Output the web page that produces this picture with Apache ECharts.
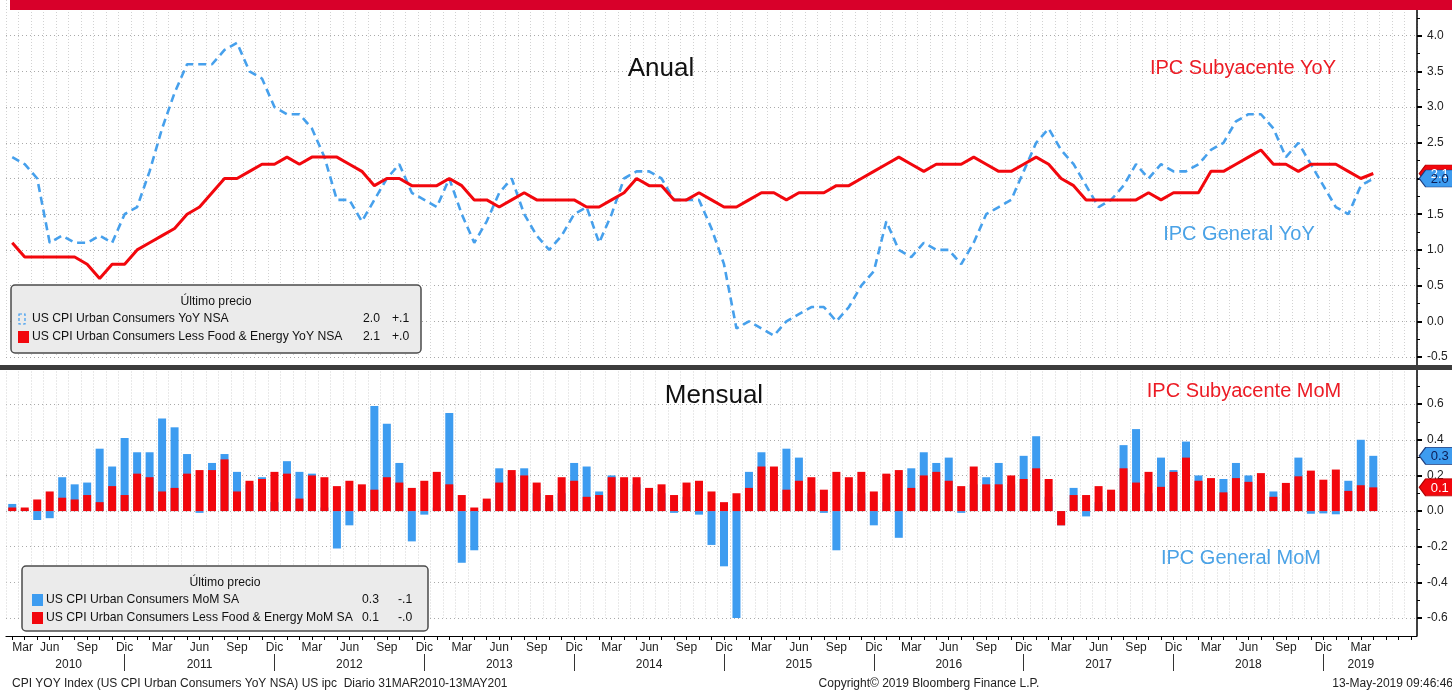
<!DOCTYPE html>
<html><head><meta charset="utf-8">
<script src="https://cdn.jsdelivr.net/npm/echarts@6/dist/echarts.min.js"></script>
<style>html,body{margin:0;padding:0;background:#fff}#c{width:1452px;height:690px}</style>
</head><body><div id="c"></div>
<script>
// ---------- axis labels ----------
const monthNames = ['Ene','Feb','Mar','Abr','May','Jun','Jul','Ago','Sep','Oct','Nov','Dic'];
const startYear = 2010, startMonth = 2;   // March 2010
const axisMonths = 113;                   // axis runs a little past the last data month
const categories = [];
for (let k = 0; k < axisMonths; k++) {
  const m = (startMonth + k) % 12, y = startYear + Math.floor((startMonth + k) / 12);
  categories.push(y + '-' + String(m + 1).padStart(2, '0'));
}
const yearLabelCats = ['2010-07','2011-06','2012-06','2013-06','2014-06','2015-06','2016-06','2017-06','2018-06','2019-03'];

// ---------- data (Mar 2010 .. Apr 2019) ----------
const headlineYoY = [
  2.3, 2.2, 2.0, 1.1, 1.2, 1.1, 1.1, 1.2, 1.1, 1.5,
  1.6, 2.1, 2.7, 3.2, 3.6, 3.6, 3.6, 3.8, 3.9, 3.5, 3.4, 3.0,
  2.9, 2.9, 2.7, 2.3, 1.7, 1.7, 1.4, 1.7, 2.0, 2.2, 1.8, 1.7,
  1.6, 2.0, 1.5, 1.1, 1.4, 1.8, 2.0, 1.5, 1.2, 1.0, 1.2, 1.5,
  1.6, 1.1, 1.5, 2.0, 2.1, 2.1, 2.0, 1.7, 1.7, 1.7, 1.3, 0.8,
  -0.1, 0.0, -0.1, -0.2, 0.0, 0.1, 0.2, 0.2, 0.0, 0.2, 0.5, 0.7,
  1.4, 1.0, 0.9, 1.1, 1.0, 1.0, 0.8, 1.1, 1.5, 1.6, 1.7, 2.1,
  2.5, 2.7, 2.4, 2.2, 1.9, 1.6, 1.7, 1.9, 2.2, 2.0, 2.2, 2.1,
  2.1, 2.2, 2.4, 2.5, 2.8, 2.9, 2.9, 2.7, 2.3, 2.5, 2.2, 1.9,
  1.6, 1.5, 1.9, 2.0
];
const coreYoY = [
  1.1, 0.9, 0.9, 0.9, 0.9, 0.9, 0.8, 0.6, 0.8, 0.8,
  1.0, 1.1, 1.2, 1.3, 1.5, 1.6, 1.8, 2.0, 2.0, 2.1, 2.2, 2.2,
  2.3, 2.2, 2.3, 2.3, 2.3, 2.2, 2.1, 1.9, 2.0, 2.0, 1.9, 1.9,
  1.9, 2.0, 1.9, 1.7, 1.7, 1.6, 1.7, 1.8, 1.7, 1.7, 1.7, 1.7,
  1.6, 1.6, 1.7, 1.8, 2.0, 1.9, 1.9, 1.7, 1.7, 1.8, 1.7, 1.6,
  1.6, 1.7, 1.8, 1.8, 1.7, 1.8, 1.8, 1.8, 1.9, 1.9, 2.0, 2.1,
  2.2, 2.3, 2.2, 2.1, 2.2, 2.2, 2.2, 2.3, 2.2, 2.1, 2.1, 2.2,
  2.3, 2.2, 2.0, 1.9, 1.7, 1.7, 1.7, 1.7, 1.7, 1.8, 1.7, 1.8,
  1.8, 1.8, 2.1, 2.1, 2.2, 2.3, 2.4, 2.2, 2.2, 2.1, 2.2, 2.2,
  2.2, 2.1, 2.0, 2.07
];
const headlineMoM = [
  0.04, 0.01, -0.05, -0.04, 0.19, 0.15, 0.16, 0.35, 0.25, 0.41,
  0.33, 0.33, 0.52, 0.47, 0.32, -0.01, 0.27, 0.32, 0.22, 0.15, 0.19, 0.05,
  0.28, 0.22, 0.21, 0.02, -0.21, -0.08, 0.00, 0.59, 0.49, 0.27, -0.17, -0.02,
  0.02, 0.55, -0.29, -0.22, 0.05, 0.24, 0.20, 0.24, 0.10, 0.05, 0.10, 0.27,
  0.25, 0.11, 0.20, 0.17, 0.15, 0.10, 0.10, -0.01, 0.08, -0.02, -0.19, -0.31,
  -0.65, 0.22, 0.33, 0.10, 0.35, 0.30, 0.10, -0.01, -0.22, 0.10, 0.10, -0.08,
  0.05, -0.15, 0.24, 0.33, 0.27, 0.30, -0.01, 0.15, 0.19, 0.27, 0.15, 0.31,
  0.42, 0.08, -0.08, 0.13, -0.03, 0.05, 0.10, 0.37, 0.46, 0.10, 0.30, 0.23,
  0.39, 0.20, 0.05, 0.18, 0.27, 0.20, 0.15, 0.11, 0.10, 0.30, -0.015, -0.013,
  -0.018, 0.17, 0.40, 0.31
];
const coreMoM = [
  0.02, 0.02, 0.065, 0.11, 0.075, 0.065, 0.09, 0.05, 0.14, 0.09,
  0.21, 0.19, 0.11, 0.13, 0.21, 0.23, 0.23, 0.29, 0.11, 0.17, 0.18, 0.22,
  0.21, 0.07, 0.20, 0.19, 0.14, 0.17, 0.15, 0.12, 0.19, 0.16, 0.13, 0.17,
  0.22, 0.15, 0.09, 0.02, 0.07, 0.16, 0.23, 0.20, 0.16, 0.09, 0.19, 0.17,
  0.08, 0.09, 0.19, 0.19, 0.19, 0.13, 0.15, 0.09, 0.16, 0.17, 0.11, 0.05,
  0.10, 0.13, 0.25, 0.25, 0.12, 0.17, 0.19, 0.12, 0.22, 0.19, 0.22, 0.11,
  0.21, 0.23, 0.13, 0.20, 0.22, 0.17, 0.14, 0.25, 0.15, 0.15, 0.20, 0.18,
  0.24, 0.18, -0.08, 0.09, 0.09, 0.14, 0.12, 0.24, 0.16, 0.22, 0.136, 0.22,
  0.30, 0.17, 0.185, 0.105, 0.185, 0.164, 0.213, 0.08, 0.158, 0.195, 0.227, 0.176,
  0.233, 0.113, 0.145, 0.133
];
const legendTop = [
  ['US CPI Urban Consumers YoY NSA', '2.0', '+.1'],
  ['US CPI Urban Consumers Less Food & Energy YoY NSA', '2.1', '+.0']
];
const legendBottom = [
  ['US CPI Urban Consumers MoM SA', '0.3', '-.1'],
  ['US CPI Urban Consumers Less Food & Energy MoM SA', '0.1', '-.0']
];

// ---------- styles ----------
const FONT = '"Liberation Sans", Arial, sans-serif';
const BLUE = '#3d9cf0', BLUE_LINE = '#46a0ec', RED = '#f2070d', BAND = '#d8002a';
const BLUE_TXT = '#4aa2e6', RED_TXT = '#ec1b24';
const LEG_FONT = '12.2px ' + FONT;
const lastIdx = headlineYoY.length - 1;
const lastCat = categories[axisMonths - 1];
const vGrid = { show: true, interval: 0, lineStyle: { color: '#d2d2d2', type: [1, 2], width: 1 } };
const hGrid = { show: true, lineStyle: { color: '#a9a9a9', type: [1, 3], width: 1 } };

function tag(name, xi, yi, value, fill, border, txt, z) {
  return {
    name, type: 'line', xAxisIndex: xi, yAxisIndex: yi, data: [], silent: true, z,
    markPoint: {
      symbol: 'path://M0,8 L8,0 L44,0 L44,16 L8,16 Z',
      symbolSize: [35, 17], symbolOffset: [26, 0],
      itemStyle: { color: fill, borderColor: border, borderWidth: 1 },
      label: { show: true, position: 'inside', offset: [3, 1], formatter: value.toFixed(1),
               color: txt, fontSize: 13, fontFamily: FONT },
      data: [{ coord: [lastCat, value], value }]
    }
  };
}

function legendBox(x, y, w, h, rows, icons) {
  const els = [
    { type: 'rect', shape: { x, y, width: w, height: h, r: 4 }, z: 50,
      style: { fill: '#ebebeb', stroke: '#4b4b4b', lineWidth: 1.5 } },
    { type: 'text', z: 51, style: { text: 'Último precio', x: x + w / 2, y: y + 17, font: LEG_FONT,
      fill: '#111', align: 'center', verticalAlign: 'middle' } }
  ];
  rows.forEach((r, k) => {
    const ry = y + 34 + k * 18;
    els.push(icons[k](x, ry));
    els.push({ type: 'text', z: 51, style: { text: r[0], x: icons.textX(x), y: ry, font: LEG_FONT,
      fill: '#111', align: 'left', verticalAlign: 'middle' } });
    els.push({ type: 'text', z: 51, style: { text: r[1], x: icons.valX(x), y: ry, font: LEG_FONT,
      fill: '#111', align: 'right', verticalAlign: 'middle' } });
    els.push({ type: 'text', z: 51, style: { text: r[2], x: icons.chgX(x), y: ry, font: LEG_FONT,
      fill: '#111', align: 'left', verticalAlign: 'middle' } });
  });
  return els;
}
const topIcons = [
  (x, ry) => ({ type: 'rect', z: 51, shape: { x: x + 8, y: ry - 5, width: 6, height: 10 },
               style: { fill: 'none', stroke: BLUE, lineWidth: 1.2, lineDash: [3, 2] } }),
  (x, ry) => ({ type: 'rect', z: 51, shape: { x: x + 7, y: ry - 6, width: 11, height: 12 }, style: { fill: RED } })
];
topIcons.textX = x => x + 21; topIcons.valX = x => x + 369; topIcons.chgX = x => x + 381;
const botIcons = [
  (x, ry) => ({ type: 'rect', z: 51, shape: { x: x + 10, y: ry - 6, width: 11, height: 12 }, style: { fill: BLUE } }),
  (x, ry) => ({ type: 'rect', z: 51, shape: { x: x + 10, y: ry - 6, width: 11, height: 12 }, style: { fill: RED } })
];
botIcons.textX = x => x + 24; botIcons.valX = x => x + 357; botIcons.chgX = x => x + 376;

function txt(text, x, y, size, color, align) {
  return { type: 'text', z: 60, style: { text, x, y, font: size + 'px ' + FONT, fill: color,
    align: align || 'center', verticalAlign: 'middle' } };
}

const chart = echarts.init(document.getElementById('c'), null, { renderer: 'canvas' });
chart.setOption({
  animation: false,
  backgroundColor: '#ffffff',
  grid: [
    { left: 6, right: 35, top: -3, bottom: 333 },
    { left: 6, right: 35, top: 368.5, bottom: 72 }
  ],
  xAxis: [
    { type: 'category', gridIndex: 0, data: categories, boundaryGap: true,
      axisLine: { show: false, onZero: false }, axisTick: { show: false }, axisLabel: { show: false }, splitLine: vGrid },
    { type: 'category', gridIndex: 1, data: categories, boundaryGap: true, offset: 18, position: 'bottom',
      axisLine: { show: true, onZero: false, lineStyle: { color: '#000', width: 1.2 } },
      axisTick: { show: true, alignWithLabel: true, interval: 0, length: 4, lineStyle: { color: '#000' } },
      axisLabel: { interval: (i) => i % 3 === 0 && i <= lastIdx, alignMinLabel: 'left',
                   formatter: v => monthNames[parseInt(v.slice(5), 10) - 1],
                   fontFamily: FONT, fontSize: 12, color: '#222', margin: 6 },
      splitLine: vGrid },
    { type: 'category', gridIndex: 1, data: categories, boundaryGap: true, offset: 36, position: 'bottom',
      axisLine: { show: false, onZero: false },
      axisTick: { show: true, alignWithLabel: true, length: 17, lineStyle: { color: '#333', width: 1 },
                  interval: (i, v) => v.slice(5) === '12' && i < lastIdx },
      axisLabel: { interval: (i, v) => yearLabelCats.indexOf(v) >= 0,
                   formatter: v => v === yearLabelCats[0] ? '{s|' + v.slice(0, 4) + '}' : v.slice(0, 4),
                   rich: { s: { padding: [0, 0, 0, 13], fontFamily: FONT, fontSize: 12, color: '#222' } },
                   fontFamily: FONT, fontSize: 12, color: '#222', margin: 5 },
      splitLine: { show: false } }
  ],
  yAxis: [
    { type: 'value', gridIndex: 0, position: 'right', min: -0.5, max: 4.5, interval: 0.5,
      axisLine: { show: false },
      axisTick: { show: true, length: 5, lineStyle: { color: '#000', width: 2 } },
      minorTick: { show: true, splitNumber: 2, length: 3, lineStyle: { color: '#000', width: 1 } },
      axisLabel: { formatter: v => v.toFixed(1), showMaxLabel: false, fontFamily: FONT, fontSize: 12,
                   color: '#222', margin: 10 },
      splitLine: hGrid },
    { type: 'value', gridIndex: 1, position: 'right', min: -0.6, max: 0.8, interval: 0.2,
      axisLine: { show: false },
      axisTick: { show: true, length: 5, lineStyle: { color: '#000', width: 2 } },
      minorTick: { show: true, splitNumber: 2, length: 3, lineStyle: { color: '#000', width: 1 } },
      axisLabel: { formatter: v => v.toFixed(1), showMaxLabel: false, fontFamily: FONT, fontSize: 12,
                   color: '#222', margin: 10 },
      splitLine: hGrid }
  ],
  series: [
    { name: 'US CPI Urban Consumers YoY NSA', type: 'line', xAxisIndex: 0, yAxisIndex: 0,
      data: headlineYoY, symbol: 'none', z: 3,
      lineStyle: { color: BLUE_LINE, width: 2.6, type: [8, 5] } },
    { name: 'US CPI Urban Consumers Less Food & Energy YoY NSA', type: 'line', xAxisIndex: 0, yAxisIndex: 0,
      data: coreYoY, symbol: 'none', z: 4,
      lineStyle: { color: RED, width: 3 } },
    { name: 'US CPI Urban Consumers MoM SA', type: 'bar', xAxisIndex: 1, yAxisIndex: 1,
      data: headlineMoM, barWidth: 8, barGap: '-100%', itemStyle: { color: BLUE } },
    { name: 'US CPI Urban Consumers Less Food & Energy MoM SA', type: 'bar', xAxisIndex: 1, yAxisIndex: 1,
      data: coreMoM, barWidth: 8, barGap: '-100%', itemStyle: { color: RED } },
    tag('tagCoreYoY', 0, 0, coreYoY[lastIdx], RED, '#b00000', '#fff', 6),
    tag('tagHeadYoY', 0, 0, headlineYoY[lastIdx], BLUE, '#1d3b7c', '#0b1d55', 7),
    tag('tagHeadMoM', 1, 1, headlineMoM[lastIdx], BLUE, '#1d3b7c', '#0b1d55', 7),
    tag('tagCoreMoM', 1, 1, coreMoM[lastIdx], RED, '#b00000', '#fff', 6)
  ],
  graphic: { elements: [
    { type: 'rect', z: 100, shape: { x: 10, y: 0, width: 1442, height: 10 }, style: { fill: BAND } },
    { type: 'rect', z: 100, shape: { x: 0, y: 365, width: 1452, height: 5 }, style: { fill: '#3c3c3c' } },
    { type: 'line', z: 90, shape: { x1: 1417, y1: 10, x2: 1417, y2: 636 }, style: { stroke: '#000', lineWidth: 1.5 } },
    txt('Anual', 661, 69, 26, '#111'),
    txt('Mensual', 714, 396, 26, '#111'),
    txt('IPC Subyacente YoY', 1243, 68, 20, RED_TXT),
    txt('IPC General YoY', 1239, 234, 20, BLUE_TXT),
    txt('IPC Subyacente MoM', 1244, 391, 20, RED_TXT),
    txt('IPC General MoM', 1241, 558, 20, BLUE_TXT),
    ...legendBox(11, 285, 410, 68, legendTop, topIcons),
    ...legendBox(22, 566, 406, 65, legendBottom, botIcons),
    txt('CPI YOY Index (US CPI Urban Consumers YoY NSA) US ipc  Diario 31MAR2010-13MAY201', 12, 684, 12, '#222', 'left'),
    txt('Copyright\u00a9 2019 Bloomberg Finance L.P.', 929, 684, 12, '#222'),
    txt('13-May-2019 09:46:46', 1453, 684, 12, '#222', 'right')
  ] }
});
</script>
</body></html>
